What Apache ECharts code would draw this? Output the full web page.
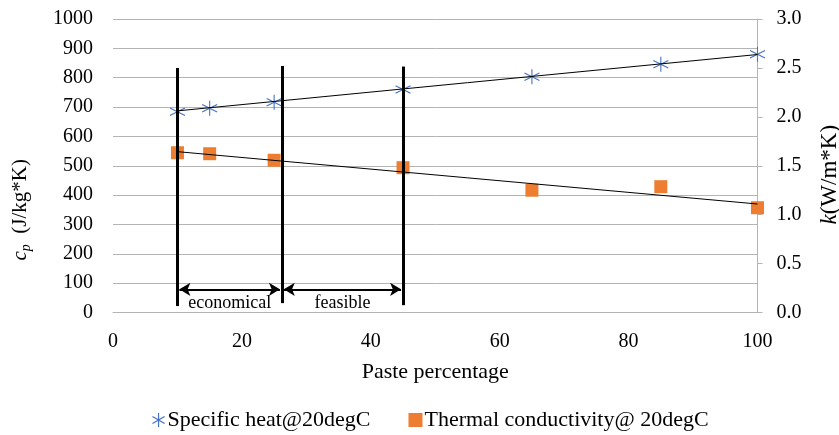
<!DOCTYPE html>
<html>
<head>
<meta charset="utf-8">
<script src="https://cdn.jsdelivr.net/npm/echarts@6/dist/echarts.min.js"></script>
<style>
  html, body { margin: 0; padding: 0; background: #fff; }
  #chart { width: 839px; height: 435px; }
</style>
</head>
<body>
<div id="chart"></div>
<script>
// paste percentage of each sample
const xPaste = [10, 15, 25, 45, 65, 85, 100];
// specific heat, J/kg*K (left axis)
const specificHeat = [684, 696, 716, 760, 803, 846, 880];
// thermal conductivity, W/m*K (right axis)
const thermalCond = [1.633, 1.623, 1.556, 1.48, 1.25, 1.286, 1.071];
// linear trend end points
const heatTrend = [[10, 687], [100, 879]];
const condTrend = [[10, 1.644], [100, 1.109]];
// zone boundaries (vertical lines), in left-axis units
const zoneX = [10, 26.2, 45];
const zoneTop = [833, 840, 838];
const zoneBottom = [22, 32, 25];
const zoneArrowY = 79;
const zoneNames = ["economical", "feasible"];

const xTicks = { min: 0, max: 100, interval: 20 };
const leftTicks = { min: 0, max: 1000, interval: 100 };
const rightTicks = { min: 0, max: 3, interval: 0.5 };

const FONT = "'Liberation Serif', 'DejaVu Serif', serif";
const GRID_COLOR = "#b4b4b4";
const BLUE = "#4472C4";
const ORANGE = "#ED7D31";

// six-armed asterisk used for specific heat
const STAR =
  "path://M0,-10L0,10M-8.66,-5L8.66,5M-8.66,5L8.66,-5";

const toPairs = (xs, ys) => xs.map((x, i) => [x, ys[i]]);

const zoneLines = zoneX.map((x, i) => [
  { coord: [x, zoneBottom[i]] },
  { coord: [x, zoneTop[i]] },
]);

const zoneArrows = zoneNames.map((name, i) => [
  {
    coord: [zoneX[i] + 0.3, zoneArrowY],
    name: name,
  },
  { coord: [zoneX[i + 1] - 0.3, zoneArrowY] },
]);

const chart = echarts.init(document.getElementById("chart"));
chart.setOption({
  animation: false,
  textStyle: { fontFamily: FONT },
  grid: {
    left: 113,
    right: 81.5,
    top: 19,
    bottom: 122.5,
    containLabel: false,
    outerBoundsMode: "none",
  },
  legend: {
    left: 145,
    top: 404,
    itemGap: 38,
    itemWidth: 14,
    itemHeight: 14,
    data: [
      { name: "Specific heat@20degC", icon: STAR, itemStyle: { color: "none", borderColor: BLUE, borderWidth: 1.2 } },
      { name: "Thermal conductivity@ 20degC", icon: "rect", itemStyle: { color: ORANGE, opacity: 1 } },
    ],
    textStyle: { fontFamily: FONT, fontSize: 22, color: "#000", padding: [0, 0, 0, -3] },
  },
  xAxis: {
    type: "value",
    ...xTicks,
    name: "Paste percentage",
    nameLocation: "middle",
    nameGap: 49,
    nameTextStyle: { fontFamily: FONT, fontSize: 22, color: "#000" },
    axisLine: { show: true, lineStyle: { color: GRID_COLOR } },
    axisTick: { show: false },
    axisLabel: { fontFamily: FONT, fontSize: 20, color: "#000", margin: 19 },
    splitLine: { show: false },
  },
  yAxis: [
    {
      type: "value",
      ...leftTicks,
      position: "left",
      name: "{i|c}{s|p}{n|  (J/kg*K)}",
      nameLocation: "middle",
      nameGap: 80,
      nameRotate: 90,
      nameTextStyle: {
        color: "#000",
        padding: [0, 88, 0, 0],
        rich: {
          i: { fontFamily: FONT, fontSize: 21, fontStyle: "italic", color: "#000" },
          s: { fontFamily: FONT, fontSize: 14, fontStyle: "italic", color: "#000", padding: [11, 0, 0, 0] },
          n: { fontFamily: FONT, fontSize: 21, color: "#000" },
        },
      },
      axisLine: { show: false },
      axisTick: { show: false },
      axisLabel: {
        fontFamily: FONT,
        fontSize: 20,
        color: "#000",
        margin: 20,
        formatter: (v) => String(v),
      },
      splitLine: { lineStyle: { color: GRID_COLOR, width: 1 } },
    },
    {
      type: "value",
      ...rightTicks,
      position: "right",
      name: "{i|k}{n|(W/m*K)}",
      nameLocation: "middle",
      nameGap: 61,
      nameRotate: 90,
      nameTextStyle: {
        color: "#000",
        padding: [0, 18, 0, 0],
        rich: {
          i: { fontFamily: FONT, fontSize: 23, fontStyle: "italic", color: "#000" },
          n: { fontFamily: FONT, fontSize: 23, color: "#000" },
        },
      },
      axisLine: { show: true, lineStyle: { color: GRID_COLOR } },
      axisTick: { show: true, length: 5, lineStyle: { color: GRID_COLOR } },
      axisLabel: {
        fontFamily: FONT,
        fontSize: 20,
        color: "#000",
        margin: 19,
        formatter: (v) => v.toFixed(1),
      },
      splitLine: { show: false },
    },
  ],
  series: [
    {
      name: "heat trend",
      type: "line",
      yAxisIndex: 0,
      data: heatTrend,
      symbol: "none",
      lineStyle: { color: "#000", width: 1 },
      z: 3,
    },
    {
      name: "cond trend",
      type: "line",
      yAxisIndex: 1,
      data: condTrend,
      symbol: "none",
      lineStyle: { color: "#000", width: 1 },
      z: 3,
    },
    {
      name: "Specific heat@20degC",
      type: "scatter",
      yAxisIndex: 0,
      data: toPairs(xPaste, specificHeat),
      symbol: STAR,
      symbolSize: 15,
      itemStyle: { color: "none", borderColor: BLUE, borderWidth: 1.1, opacity: 1 },
      z: 2,
    },
    {
      name: "Thermal conductivity@ 20degC",
      type: "scatter",
      yAxisIndex: 1,
      data: toPairs(xPaste, thermalCond),
      symbol: "rect",
      symbolSize: 13,
      itemStyle: { color: ORANGE, opacity: 1 },
      z: 2,
    },
    {
      name: "zones",
      type: "line",
      yAxisIndex: 0,
      data: [],
      z: 10,
      markLine: {
        silent: true,
        symbol: "none",
        lineStyle: { color: "#000", width: 3, type: "solid" },
        label: { show: false },
        data: zoneLines,
      },
    },
    {
      name: "zone arrows",
      type: "line",
      yAxisIndex: 0,
      data: [],
      z: 10,
      markLine: {
        silent: true,
        symbol: ["arrow", "arrow"],
        symbolSize: [10, 11],
        lineStyle: { color: "#000", width: 2, type: "solid" },
        label: {
          show: true,
          position: "insideMiddleBottom",
          distance: 5,
          formatter: "{b}",
          fontFamily: FONT,
          fontSize: 18,
          color: "#000",
        },
        data: zoneArrows,
      },
    },
  ],
});
</script>
</body>
</html>
